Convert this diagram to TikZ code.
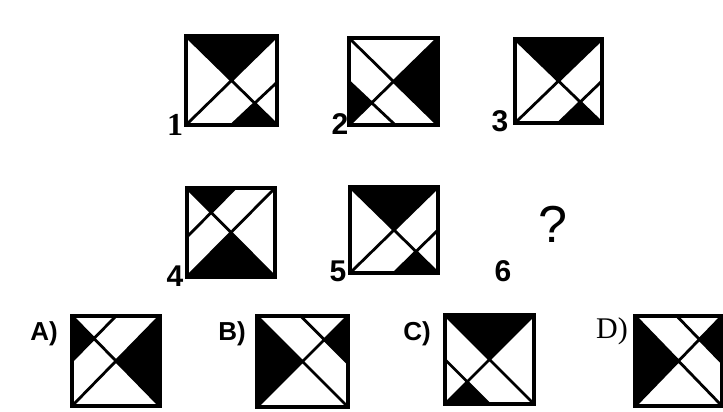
\documentclass[tikz,border=0pt]{standalone}
\usepackage{fontspec}
\setmainfont{Liberation Serif}
\setsansfont{Liberation Sans}
\tikzset{
  frame/.style={line width=3.2pt, line join=miter},
  cut/.style={line width=2.8pt},
  lab/.style={inner sep=0pt, anchor=center},
  numfont/.style={font=\sffamily\bfseries\fontsize{30}{30}\selectfont},
  optfont/.style={font=\sffamily\bfseries\fontsize{26}{26}\selectfont},
}
% #1 left px, #2 bottom px, #3 width, #4 height, #5 big quarter, #6 extra line, #7 small triangle
\newcommand\puzfig[7]{%
  \begin{scope}[shift={(#1pt,{(412-#2)*1pt})}, x=#3pt, y=#4pt]
    \fill[black] #5 -- cycle;
    \fill[black] #7 -- cycle;
    \draw[cut] (0,0) -- (1,1) (0,1) -- (1,0) #6;
    \draw[frame] (0,0) rectangle (1,1);
  \end{scope}}
\begin{document}
\begin{tikzpicture}[x=1pt,y=1pt]
\useasboundingbox[fill=white] (0,0) rectangle (723,412);
% row 1
\puzfig{186}{125}{91}{89}{(0,1) -- (1,1) -- (0.5,0.5)}{(0.5,0) -- (1,0.48)}{(0.5,0) -- (0.75,0.25) -- (1,0)}
\puzfig{349}{125}{89}{87}{(1,1) -- (1,0) -- (0.5,0.5)}{(0,0.5) -- (0.52,0)}{(0,0) -- (0,0.5) -- (0.25,0.25)}
\puzfig{515}{123}{87}{84}{(0,1) -- (1,1) -- (0.5,0.5)}{(0.5,0) -- (1,0.5)}{(0.5,0) -- (0.75,0.25) -- (1,0)}
% row 2
\puzfig{187}{277}{88}{89}{(0,0) -- (1,0) -- (0.5,0.5)}{(0,0.45) -- (0.55,1)}{(0,1) -- (0.55,1) -- (0.275,0.725)}
\puzfig{350}{273}{88}{86}{(0,1) -- (1,1) -- (0.5,0.5)}{(0.5,0) -- (1,0.5)}{(0.5,0) -- (0.75,0.25) -- (1,0)}
% options
\puzfig{72}{406}{88}{90}{(1,1) -- (1,0) -- (0.5,0.5)}{(0,0.5) -- (0.5,1)}{(0,0.5) -- (0,1) -- (0.25,0.75)}
\puzfig{257}{407}{91}{91}{(0,0) -- (0,1) -- (0.5,0.5)}{(0.48,1) -- (1,0.48)}{(1,1) -- (1,0.48) -- (0.74,0.74)}
\puzfig{445}{404}{89}{89}{(0,1) -- (1,1) -- (0.5,0.5)}{(0,0.5) -- (0.5,0)}{(0,0) -- (0.25,0.25) -- (0.5,0)}
\puzfig{635}{406}{87}{90}{(0,0) -- (0,1) -- (0.5,0.5)}{(0.48,1) -- (1,0.48)}{(1,1) -- (1,0.48) -- (0.74,0.74)}
% labels
\node[lab, font=\rmfamily\bfseries\fontsize{32}{32}\selectfont] (l1) at (175,287) {1};
\node[lab, numfont] (l2) at (340,288) {2};
\node[lab, numfont] (l3) at (500,291) {3};
\node[lab, numfont] (l4) at (175,136) {4};
\node[lab, numfont] (l5) at (338,141) {5};
\node[lab, numfont] (l6) at (503,141) {6};
\node[lab, font=\sffamily\fontsize{52}{52}\selectfont] (q) at (553,188) {?};
\node[lab, optfont] (oA) at (44,78) {A)};
\node[lab, optfont] (oB) at (232,78) {B)};
\node[lab, optfont] (oC) at (417,78) {C)};
\node[lab, font=\rmfamily\fontsize{30}{30}\selectfont] (oD) at (612,81) {D)};
\end{tikzpicture}
\end{document}
